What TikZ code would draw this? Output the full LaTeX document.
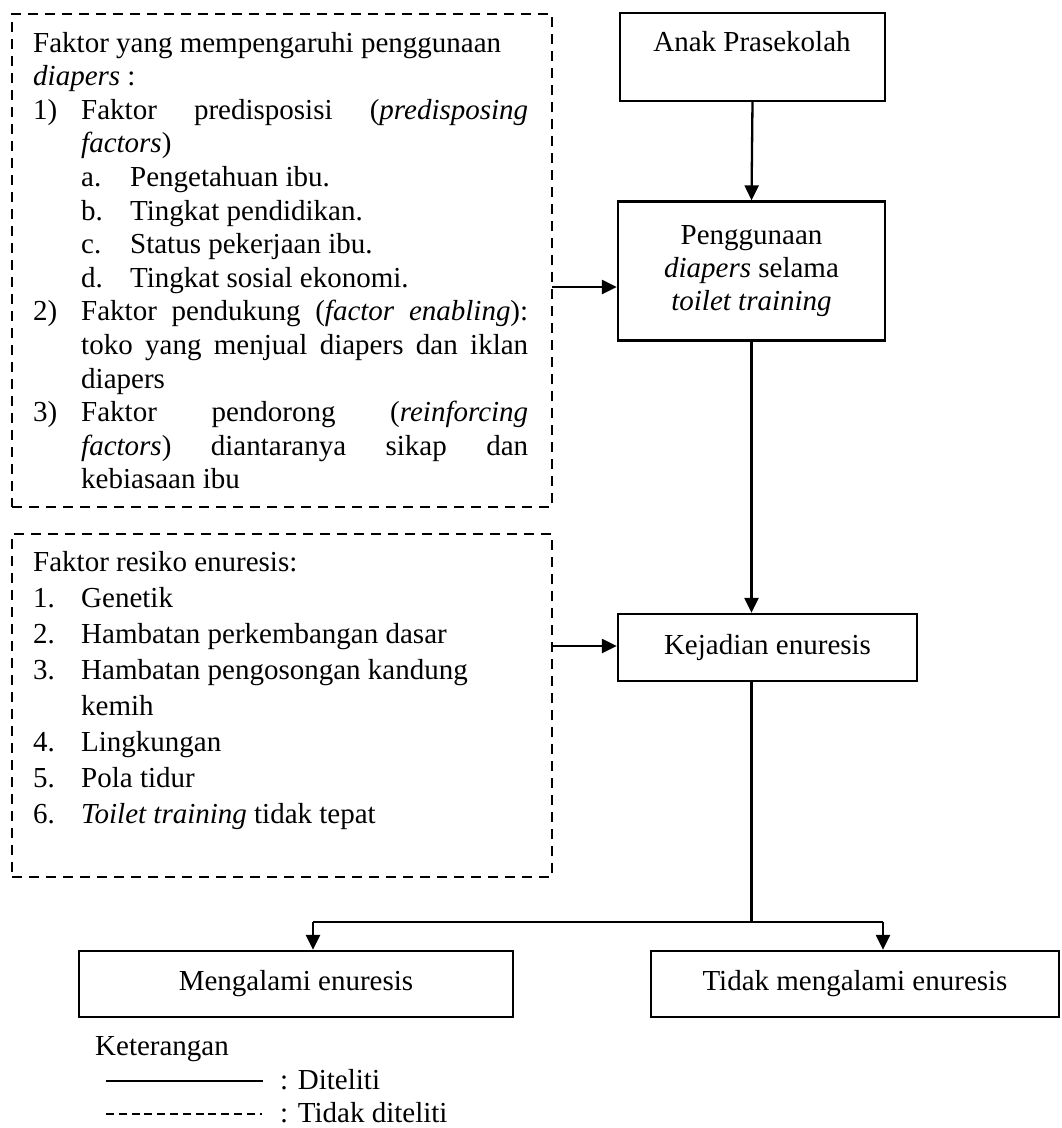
\documentclass[tikz,border=0pt]{standalone}
\usepackage{fontspec}
\setmainfont{Liberation Serif}
\usetikzlibrary{arrows.meta}
\newcommand{\litem}[2]{\par\hangindent=48pt\hangafter=1\noindent\makebox[48pt][l]{#1}#2}
\newcommand{\lsub}[2]{\par\hangindent=97pt\hangafter=1\noindent\hspace*{48pt}\makebox[49pt][l]{#1}#2}
\newcommand{\nohyph}{\hyphenpenalty=10000\exhyphenpenalty=10000\tolerance=10000\parindent=0pt\parskip=0pt\rightskip=0pt\parfillskip=0pt plus 1fil}
\begin{document}
\begin{tikzpicture}[x=1pt,y=-1pt,
  solidbox/.style={draw, line width=2.3pt, inner sep=0pt, font=\fontsize{29pt}{33pt}\selectfont},
  dashbox/.style={draw, line width=2.3pt, dash pattern=on 10pt off 7pt, inner sep=0pt},
  arr/.style={line width=2.3pt, -{Triangle[length=15pt,width=14pt]}},
  conn/.style={line width=2.3pt},
  txt/.style={inner sep=0pt, font=\fontsize{29pt}{33.6pt}\selectfont},
  listtext/.style={txt, text width=495pt, align=justify, anchor=base west},
  legsolid/.style={line width=1.5pt},
  legdash/.style={line width=1.5pt, dash pattern=on 8pt off 4.8pt}]
\useasboundingbox (0,0) rectangle (1062,1128);

% dashed boxes
\node[dashbox, minimum width=540pt, minimum height=493pt] (f1) at (282,260.5) {};
\node[dashbox, minimum width=540pt, minimum height=343pt] (f2) at (282,705.5) {};

\node[listtext] (f1t) at (33,52) {\nohyph
Faktor yang mempengaruhi penggunaan\newline \textit{diapers} :
\litem{1)}{Faktor predisposisi (\textit{predisposing}\linebreak \textit{factors})}
\lsub{a.}{Pengetahuan ibu.}
\lsub{b.}{Tingkat pendidikan.}
\lsub{c.}{Status pekerjaan ibu.}
\lsub{d.}{Tingkat sosial ekonomi.}
\litem{2)}{Faktor pendukung (\textit{factor enabling}):\linebreak toko yang menjual diapers dan iklan\linebreak diapers}
\litem{3)}{Faktor pendorong (\textit{reinforcing}\linebreak \textit{factors}) diantaranya sikap dan\linebreak kebiasaan ibu}\par};

\node[listtext, font=\fontsize{29pt}{36pt}\selectfont] (f2t) at (33,571) {\nohyph
Faktor resiko enuresis:
\litem{1.}{Genetik}
\litem{2.}{Hambatan perkembangan dasar}
\litem{3.}{Hambatan pengosongan kandung\newline kemih}
\litem{4.}{Lingkungan}
\litem{5.}{Pola tidur}
\litem{6.}{\textit{Toilet training} tidak tepat}\par};

% solid boxes
\node[solidbox, minimum width=265pt, minimum height=88pt] (anak) at (752.5,57) {};
\node[txt, anchor=base] (anakt) at (752,51) {Anak Prasekolah};
\node[solidbox, minimum width=267pt, minimum height=139pt, align=center] (peng) at (751.5,271) {Penggunaan\\\textit{diapers} selama\\\textit{toilet training}};
\node[solidbox, minimum width=299pt, minimum height=67pt] (kej) at (767.5,647.5) {Kejadian enuresis};
\node[solidbox, minimum width=434pt, minimum height=66pt] (meng) at (296,984) {Mengalami enuresis};
\node[solidbox, minimum width=408pt, minimum height=66pt] (tidak) at (855,984) {Tidak mengalami enuresis};

% connectors
\coordinate (a1) at (552,287);
\coordinate (a2) at (552,646);
\coordinate (sl) at (313,922);
\coordinate (sr) at (883,922);
\draw[arr] (anak.south) -- (peng.north);
\draw[arr] (peng.south) -- (peng.south |- kej.north);
\draw[arr] (a1) -- (a1 -| peng.west);
\draw[arr] (a2) -- (a2 -| kej.west);
\draw[conn] (peng.south |- kej.south) -- (peng.south |- sl);
\draw[conn] (sl) -- (sr);
\draw[arr] (sl) -- (sl |- meng.north);
\draw[arr] (sr) -- (sr |- tidak.north);

% legend
\node[txt, anchor=base west] (ket) at (95,1055) {Keterangan};
\draw[legsolid] (106,1081) -- (263,1081);
\node[txt, anchor=base west] (dit) at (280,1089) {: Diteliti};
\draw[legdash] (106,1114) -- (262,1114);
\node[txt, anchor=base west] (tdit) at (280,1122) {: Tidak diteliti};
\end{tikzpicture}
\end{document}
